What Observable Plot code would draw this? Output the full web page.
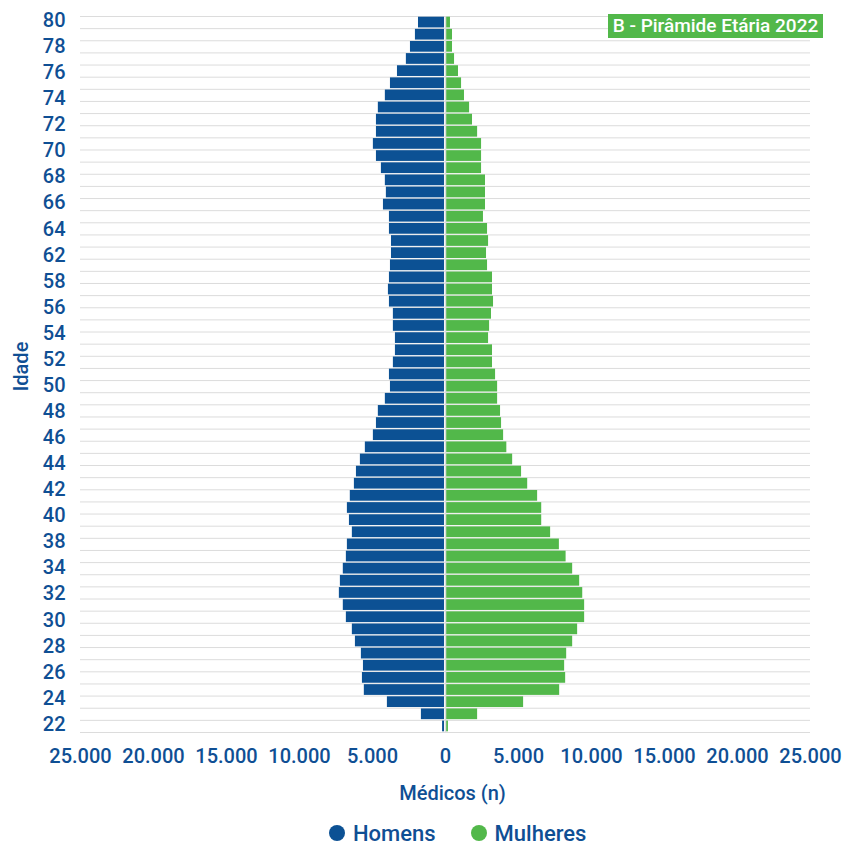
<!DOCTYPE html>
<html>
<head>
<meta charset="utf-8">
<script src="https://cdn.jsdelivr.net/npm/d3@7"></script>
<script src="https://cdn.jsdelivr.net/npm/@observablehq/plot@0.6"></script>
<style>
  html, body { margin: 0; padding: 0; background: #fff; }
  #wrap { position: relative; width: 843px; height: 848px; font-family: Roboto, "Noto Sans", sans-serif; }
  #wrap svg text { font-weight: 500; }
  #title { position: absolute; left: 608px; top: 14px; width: 215px; height: 24px; background: #52b84a; color: #fff;
           font-size: 19px; font-weight: 500; line-height: 24px; text-align: center; }
  #legend { position: absolute; left: 329px; top: 820px; display: flex; gap: 35px;
            font-size: 22px; font-weight: 500; color: #0f4f94; }
  .item { display: flex; align-items: center; gap: 8px; height: 26px; }
  .dot { width: 16px; height: 16px; border-radius: 50%; display: inline-block; }
</style>
</head>
<body>
<div id="wrap">
  <div id="chart"></div>
  <div id="title">B - Pirâmide Etária 2022</div>
  <div id="legend"></div>
</div>
<script>
const ages = [80,79,78,77,76,75,74,73,72,71,70,69,68,67,66,65,64,63,62,61,60,59,58,57,56,55,54,53,52,51,50,49,48,47,46,45,44,43,42,41,40,39,38,37,36,35,34,33,32,31,30,29,28,27,26,25,24,23,22];
const homens = [1850,2060,2400,2680,3290,3770,4120,4600,4730,4730,4940,4730,4390,4120,4050,4250,3840,3840,3700,3700,3770,3840,3910,3840,3570,3570,3430,3430,3570,3840,3770,4120,4600,4730,4940,5490,5830,6100,6240,6520,6720,6580,6380,6720,6790,7000,7200,7270,7000,6790,6380,6170,5760,5620,5690,5560,3980,1650,200];
const mulheres = [340,480,480,620,890,1100,1300,1650,1850,2200,2470,2470,2470,2740,2740,2740,2600,2880,2950,2810,2880,3220,3220,3290,3150,3020,2950,3220,3220,3430,3570,3570,3770,3840,3980,4200,4600,5210,5630,6310,6590,6590,7200,7800,8260,8710,9190,9400,9530,9530,9050,8710,8300,8160,8230,7820,5350,2200,200];
const yTickLabels = [80,78,76,74,72,70,68,66,64,62,58,56,54,52,50,48,46,44,42,40,38,34,32,30,28,26,24,22];
const xTicks = [-25000,-20000,-15000,-10000,-5000,0,5000,10000,15000,20000,25000];
const seriesNames = ["Homens", "Mulheres"];
const seriesColors = ["#0c5194", "#52b84a"];
const xLabel = "Médicos (n)";
const yLabel = "Idade";

const rows = ages.map((a, i) => ({age: a, homens: homens[i], mulheres: mulheres[i]}));
const n = yTickLabels.length;
const tickPos = yTickLabels.map((_, i) => ages[0] - i * (ages[0] - ages[ages.length - 1]) / (n - 1));
const tickMap = new Map(tickPos.map((p, i) => [p, yTickLabels[i]]));
const ptBR = d3.formatLocale({decimal: ",", thousands: ".", grouping: [3], currency: ["R$", ""]});
const fmt = ptBR.format(",");
const textColor = "#0f4f94";

const chart = Plot.plot({
  width: 843,
  height: 808,
  marginLeft: 80,
  marginRight: 33,
  marginTop: 16,
  marginBottom: 76,
  style: {fontFamily: "Roboto, 'Noto Sans', sans-serif", fontSize: "20px", color: textColor, background: "#fff"},
  x: {domain: [-25000, 25000]},
  y: {domain: [21.5, 80.5]},
  marks: [
    Plot.ruleY(d3.range(21.5, 81, 1), {stroke: "#dcdcdc", strokeWidth: 1}),
    Plot.rectX(rows, {x1: d => -d.homens, x2: d => 0, y1: d => d.age - 0.5, y2: d => d.age + 0.5,
      fill: seriesColors[0], insetTop: 0.7, insetBottom: 0.7, insetRight: 1}),
    Plot.rectX(rows, {x1: d => 0, x2: d => d.mulheres, y1: d => d.age - 0.5, y2: d => d.age + 0.5,
      fill: seriesColors[1], insetTop: 0.7, insetBottom: 0.7, insetLeft: 1}),
    Plot.ruleX([0], {stroke: "#dcdcdc", strokeWidth: 1.5}),
    Plot.axisX({ticks: xTicks, tickFormat: d => fmt(Math.abs(d)), tickSize: 0, tickPadding: 16, label: null, fontSize: 20}),
    Plot.axisY({ticks: tickPos, tickFormat: d => tickMap.get(d), tickSize: 0, tickPadding: 15, label: null, fontSize: 20, dy: -2}),
    Plot.text([xLabel], {frameAnchor: "bottom", lineAnchor: "middle", textAnchor: "middle", dy: 61, dx: 7, text: d => d, fontSize: 20, fill: textColor}),
    Plot.text([yLabel], {frameAnchor: "left", lineAnchor: "middle", textAnchor: "middle", dx: -59, dy: -8, rotate: -90, text: d => d, fontSize: 20, fill: textColor})
  ]
});
document.getElementById("chart").appendChild(chart);

const legend = document.getElementById("legend");
seriesNames.forEach((name, i) => {
  const item = document.createElement("div");
  item.className = "item";
  const dot = document.createElement("span");
  dot.className = "dot";
  dot.style.background = seriesColors[i];
  const label = document.createElement("span");
  label.textContent = name;
  item.appendChild(dot);
  item.appendChild(label);
  legend.appendChild(item);
});
</script>
</body>
</html>
